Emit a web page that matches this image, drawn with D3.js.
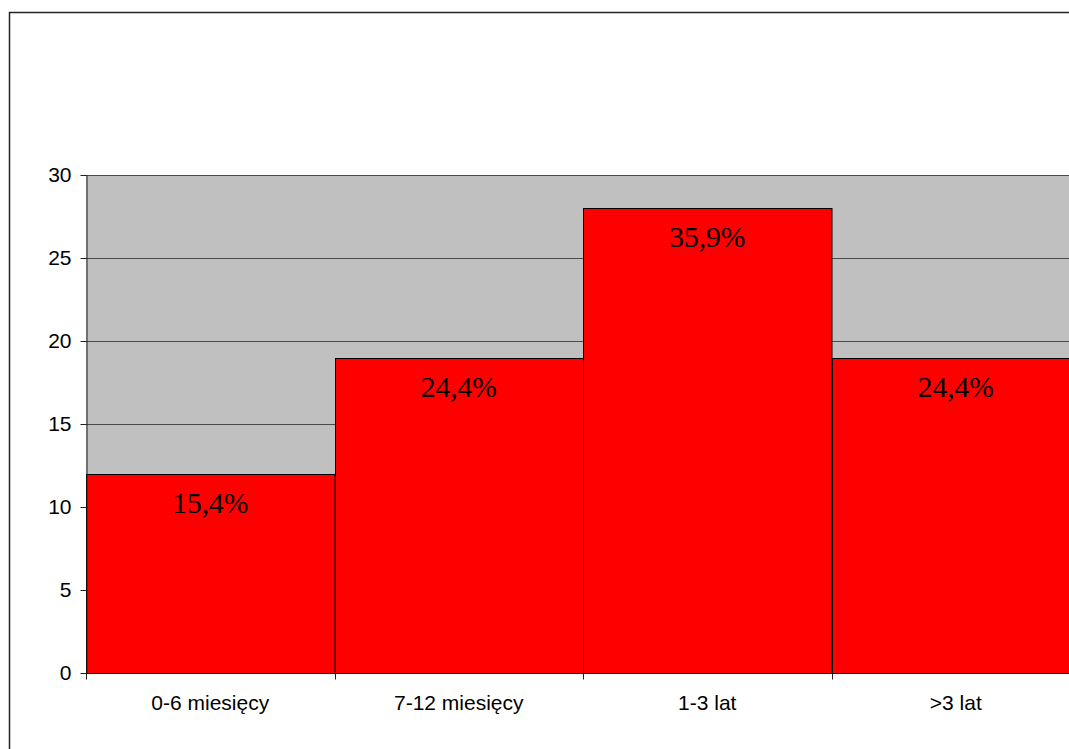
<!DOCTYPE html>
<html>
<head>
<meta charset="utf-8">
<script src="https://cdn.jsdelivr.net/npm/d3@7"></script>
<style>
  html, body { margin: 0; padding: 0; background: #fff; overflow: hidden; }
  svg { display: block; }
</style>
</head>
<body>
<svg id="chart" width="1069" height="749"></svg>
<script>
// Czas trwania – liczba osób w przedziałach
const categories = ["0-6 miesięcy", "7-12 miesięcy", "1-3 lat", ">3 lat"];
const counts = [12, 19, 28, 19];
const percentLabels = ["15,4%", "24,4%", "35,9%", "24,4%"];
const yTicks = [0, 5, 10, 15, 20, 25, 30];

const svg = d3.select("#chart");

// outer chart frame (runs past the right and bottom edges)
svg.append("rect")
  .attr("x", 9.5).attr("y", 12.5)
  .attr("width", 1200).attr("height", 900)
  .attr("fill", "#fff")
  .attr("stroke", "#222").attr("stroke-width", 1.5);

const plot = { left: 86, top: 175, width: 994, height: 498 };

const x = d3.scaleBand()
  .domain(categories)
  .range([plot.left, plot.left + plot.width])
  .paddingInner(0).paddingOuter(0);

const y = d3.scaleLinear()
  .domain([0, 30])
  .range([plot.top + plot.height, plot.top]);

// plot background
svg.append("rect")
  .attr("x", plot.left).attr("y", plot.top)
  .attr("width", plot.width).attr("height", plot.height)
  .attr("fill", "#c0c0c0");

// horizontal gridlines
svg.append("g")
  .selectAll("line")
  .data(yTicks.filter(d => d > 0))
  .join("line")
  .attr("x1", plot.left).attr("x2", plot.left + plot.width)
  .attr("y1", d => Math.round(y(d)) + 0.5)
  .attr("y2", d => Math.round(y(d)) + 0.5)
  .attr("stroke", "#4a4a4a").attr("stroke-width", 1);

// bars
svg.append("g")
  .selectAll("rect")
  .data(counts)
  .join("rect")
  .attr("x", (d, i) => Math.round(x(categories[i])) + 0.5)
  .attr("y", d => Math.round(y(d)) + 0.5)
  .attr("width", x.bandwidth())
  .attr("height", d => y(0) - Math.round(y(d)))
  .attr("fill", "#ff0000")
  .attr("stroke", "#000").attr("stroke-width", 1);

// percentage labels inside the bars
svg.append("g")
  .selectAll("text")
  .data(counts)
  .join("text")
  .attr("x", (d, i) => x(categories[i]) + x.bandwidth() / 2)
  .attr("y", d => y(d) + 39)
  .attr("text-anchor", "middle")
  .attr("font-family", "'Liberation Serif', 'Times New Roman', serif")
  .attr("font-size", 29.5)
  .attr("fill", "#000")
  .text((d, i) => percentLabels[i]);

// y axis
const yAxis = d3.axisLeft(y)
  .tickValues(yTicks)
  .tickSize(6)
  .tickPadding(9)
  .tickSizeOuter(0);

const gy = svg.append("g")
  .attr("transform", `translate(${plot.left + 0.5},0)`)
  .call(yAxis);
gy.select(".domain").attr("stroke", "#222");
gy.selectAll(".tick line").attr("stroke", "#222");
gy.selectAll(".tick text")
  .attr("font-family", "'Liberation Sans', Arial, sans-serif")
  .attr("font-size", 21)
  .attr("fill", "#000");

// x axis: ticks on category boundaries, labels centred in bands
const xBase = Math.round(y(0)) + 0.5;
svg.append("line")
  .attr("x1", plot.left).attr("x2", plot.left + plot.width)
  .attr("y1", xBase).attr("y2", xBase)
  .attr("stroke", "#000");

const boundaries = categories.map(c => x(c)).concat([plot.left + plot.width]);
svg.append("g")
  .selectAll("line")
  .data(boundaries)
  .join("line")
  .attr("x1", d => Math.round(d) + 0.5).attr("x2", d => Math.round(d) + 0.5)
  .attr("y1", xBase).attr("y2", xBase + 6)
  .attr("stroke", "#222");

svg.append("g")
  .selectAll("text")
  .data(categories)
  .join("text")
  .attr("x", d => x(d) + x.bandwidth() / 2)
  .attr("y", 710)
  .attr("text-anchor", "middle")
  .attr("font-family", "'Liberation Sans', Arial, sans-serif")
  .attr("font-size", 21)
  .attr("fill", "#000")
  .text(d => d);
</script>
</body>
</html>
